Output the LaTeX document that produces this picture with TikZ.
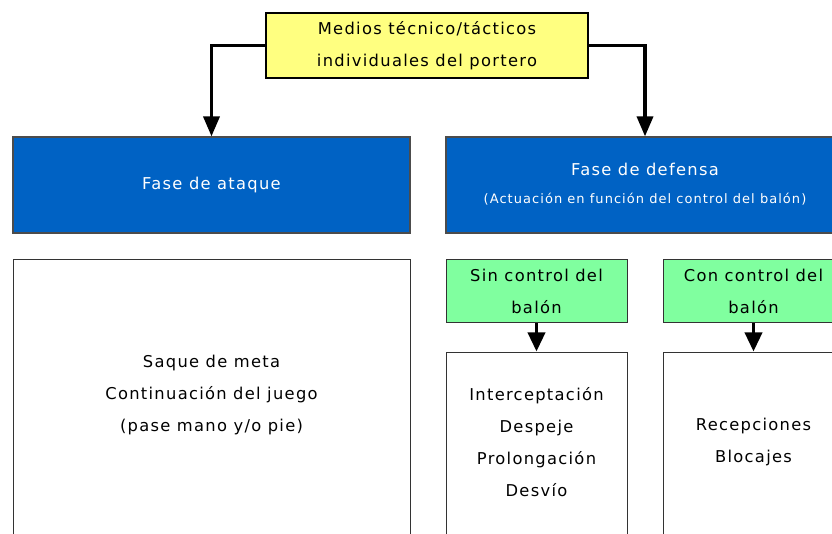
\documentclass[tikz,border=0pt]{standalone}
\usepackage{fontspec}
\setmainfont{DejaVu Sans}[LetterSpace=8]
\usetikzlibrary{arrows.meta}
\definecolor{yel}{HTML}{FFFF80}
\definecolor{blu}{HTML}{0062C4}
\definecolor{grn}{HTML}{80FF9F}
\definecolor{bord}{HTML}{333333}
\begin{document}
\begin{tikzpicture}[x=1pt,y=-1pt,
  box/.style={draw=bord,line width=1pt,inner sep=0pt,align=center},
  yelbox/.style={box,fill=yel,draw=black,line width=1.6pt},
  blubox/.style={box,fill=blu,text=white,line width=1.2pt,draw=black!70},
  grnbox/.style={box,fill=grn},
  whtbox/.style={box,fill=white},
  txt/.style={inner sep=0pt,align=center},
  big/.style={font=\fontsize{16.3}{32}\selectfont},
  small/.style={font=\fontsize{13}{24}\selectfont},
  conn/.style={line width=3.5pt,-{Triangle[width=16pt,length=20pt]}},
  conns/.style={line width=3.5pt,-{Triangle[width=17pt,length=19pt]}}]
\useasboundingbox (0,0) rectangle (832,534);
\clip (0,0) rectangle (832,534);
% top
\node[yelbox,big,minimum width=322,minimum height=65] (top) at (427,45.5)
  {Medios técnico/tácticos\\individuales del portero};
% blue
\node[blubox,big,minimum width=397,minimum height=96] (ata) at (211.5,185) {Fase de ataque};
\node[blubox,minimum width=398,minimum height=96] (def) at (645,185) {};
\node[txt,big,text=white] (deft1) at (645,169) {Fase de defensa};
\node[txt,small,text=white] (deft2) at (645,199) {(Actuación en función del control del balón)};
% white left
\node[whtbox,minimum width=397,minimum height=280] (wl) at (211.5,400) {};
\node[txt,big] (wltxt) at (211.5,395) {Saque de meta\\Continuación del juego\\(pase mano y/o pie)};
% green
\node[grnbox,big,minimum width=181,minimum height=63] (sin) at (536.5,291.5) {Sin control del\\balón};
\node[grnbox,big,minimum width=181,minimum height=63] (con) at (753.5,291.5) {Con control del\\balón};
% white lower
\node[whtbox,minimum width=181,minimum height=188] (w2) at (536.5,446) {};
\node[txt,big] (w2txt) at (536.5,442) {Interceptación\\Despeje\\Prolongación\\Desvío};
\node[whtbox,minimum width=181,minimum height=188] (w3) at (753.5,446) {};
\node[txt,big] (w3txt) at (753.5,442) {Recepciones\\Blocajes};
% connectors
\draw[conn] (top.west) -| (ata.north);
\draw[conn] (top.east) -| (def.north);
\draw[conns] (sin.south) -- (w2.north);
\draw[conns] (con.south) -- (w3.north);
\end{tikzpicture}
\end{document}
